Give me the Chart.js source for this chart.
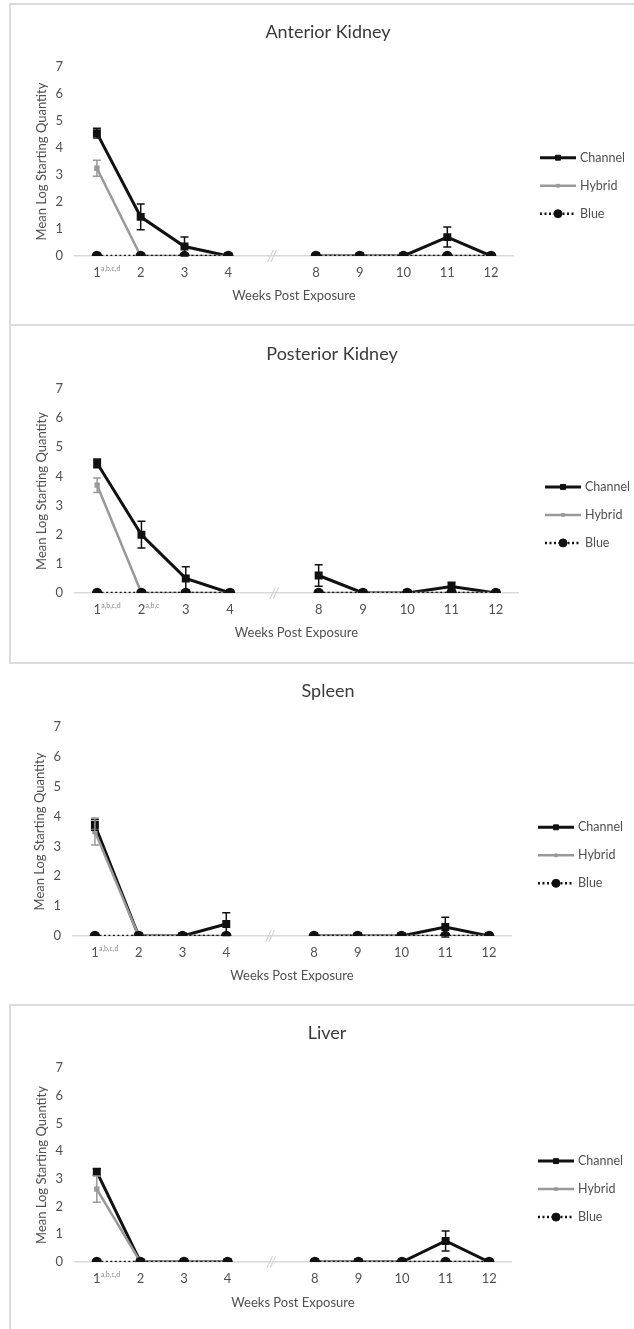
<!DOCTYPE html>
<html>
<head>
<meta charset="utf-8">
<script src="https://cdn.jsdelivr.net/npm/chart.js@4.4.1/dist/chart.umd.min.js"></script>
<style>
  body { margin: 0; background: #fff; width: 634px; height: 1329px; position: relative; overflow: hidden; font-family: Lato, sans-serif; }
  canvas { position: absolute; left: 10px; }
  .frame { position: absolute; box-sizing: border-box; border: 0 solid #dcdcdc; }
</style>
</head>
<body>
<div class="frame" style="left:9px;top:3px;width:625px;height:323px;border-top-width:2px;border-left-width:2px;border-bottom-width:2px;"></div>
<div class="frame" style="left:9px;top:326px;width:625px;height:338px;border-left-width:2px;border-bottom-width:2px;"></div>
<div class="frame" style="left:9px;top:1004px;width:625px;height:330px;border-top-width:2px;border-left-width:2px;"></div>

<canvas id="c1" width="624" height="321" style="top:4px"></canvas>
<canvas id="c2" width="624" height="335" style="top:328px"></canvas>
<canvas id="c3" width="624" height="337" style="top:663px"></canvas>
<canvas id="c4" width="624" height="324" style="top:1005px"></canvas>

<script>
// --- data ---
// week 5-7 not sampled: the empty category holds the "//" break
const weekLabels = ['1', '2', '3', '4', '', '8', '9', '10', '11', '12'];
const seriesNames = ['Channel', 'Hybrid', 'Blue'];

// Anterior Kidney
const akChannel    = [4.55, 1.45, 0.35, 0, null, 0, 0, 0, 0.70, 0];
const akChannelErr = [0.18, 0.48, 0.35, 0, null, 0, 0, 0, 0.37, 0];
const akHybrid     = [3.25, 0, 0, 0, null, 0, 0, 0, 0, 0];
const akHybridErr  = [0.30, 0, 0, 0, null, 0, 0, 0, 0, 0];
const akBlue       = [0, 0, 0, 0, null, 0, 0, 0, 0, 0];
const akSup        = ['a,b,c,d', '', '', '', '', '', '', '', '', ''];

// Posterior Kidney
const pkChannel    = [4.45, 2.00, 0.50, 0, null, 0.60, 0, 0, 0.22, 0];
const pkChannelErr = [0.15, 0.46, 0.40, 0, null, 0.37, 0, 0, 0.15, 0];
const pkHybrid     = [3.70, 0, 0, 0, null, 0, 0, 0, 0, 0];
const pkHybridErr  = [0.25, 0, 0, 0, null, 0, 0, 0, 0, 0];
const pkBlue       = [0, 0, 0, 0, null, 0, 0, 0, 0, 0];
const pkSup        = ['a,b,c,d', 'a,b,c', '', '', '', '', '', '', '', ''];

// Spleen
const spChannel    = [3.72, 0, 0, 0.40, null, 0, 0, 0, 0.30, 0];
const spChannelErr = [0.18, 0, 0, 0.38, null, 0, 0, 0, 0.33, 0];
const spHybrid     = [3.50, 0, 0, 0, null, 0, 0, 0, 0, 0];
const spHybridErr  = [0.45, 0, 0, 0, null, 0, 0, 0, 0, 0];
const spBlue       = [0, 0, 0, 0, null, 0, 0, 0, 0, 0];
const spSup        = ['a,b,c,d', '', '', '', '', '', '', '', '', ''];

// Liver
const lvChannel    = [3.25, 0, 0, 0, null, 0, 0, 0, 0.76, 0];
const lvChannelErr = [0.12, 0, 0, 0, null, 0, 0, 0, 0.36, 0];
const lvHybrid     = [2.63, 0, 0, 0, null, 0, 0, 0, 0, 0];
const lvHybridErr  = [0.47, 0, 0, 0, null, 0, 0, 0, 0, 0];
const lvBlue       = [0, 0, 0, 0, null, 0, 0, 0, 0, 0];
const lvSup        = ['a,b,c,d', '', '', '', '', '', '', '', '', ''];

const TXT = '#505050';
const FONT = 'Lato, sans-serif';

// error bars, side legend, title, "//" break and superscripts
const extras = {
  id: 'extras',
  afterDatasetsDraw(chart) {
    const ctx = chart.ctx, ys = chart.scales.y, xs = chart.scales.x;
    chart.data.datasets.forEach(ds => {
      if (!ds.errors) return;
      ctx.save();
      ctx.strokeStyle = ds.borderColor;
      ctx.lineWidth = 1.5;
      ds.errors.forEach((e, i) => {
        if (!e || ds.data[i] == null) return;
        const x = xs.getPixelForValue(i);
        const yt = ys.getPixelForValue(ds.data[i] + e);
        const yb = ys.getPixelForValue(ds.data[i] - e);
        ctx.beginPath();
        ctx.moveTo(x, yt); ctx.lineTo(x, yb);
        ctx.moveTo(x - 4, yt); ctx.lineTo(x + 4, yt);
        ctx.moveTo(x - 4, yb); ctx.lineTo(x + 4, yb);
        ctx.stroke();
      });
      ctx.restore();
    });
  },
  afterDraw(chart, args, opts) {
    const ctx = chart.ctx, area = chart.chartArea, xs = chart.scales.x, ys = chart.scales.y;
    ctx.save();
    // title
    ctx.fillStyle = '#3a3a3a';
    ctx.font = '18px ' + FONT;
    ctx.textAlign = 'center';
    ctx.textBaseline = 'middle';
    ctx.fillText(opts.title, opts.titleX, opts.titleY);

    // axis break mark
    ctx.fillStyle = '#cfcfcf';
    ctx.font = 'italic 15px ' + FONT;
    ctx.fillText('//', xs.getPixelForValue(4), ys.getPixelForValue(0));

    // superscripts next to tick labels
    ctx.fillStyle = '#8a8a8a';
    ctx.font = '7px ' + FONT;
    ctx.textAlign = 'left';
    ctx.textBaseline = 'top';
    opts.sup.forEach((s, i) => {
      if (s) ctx.fillText(s, xs.getPixelForValue(i) + 4, area.bottom + 9);
    });

    // legend on the right
    const lx = area.right + 27;
    const ly = area.top + 0.48 * (area.bottom - area.top);
    chart.data.datasets.forEach((ds, i) => {
      const y = ly + i * 28;
      ctx.strokeStyle = ds.borderColor;
      ctx.fillStyle = ds.backgroundColor;
      ctx.lineWidth = ds.borderWidth;
      ctx.setLineDash(ds.borderDash || []);
      ctx.beginPath(); ctx.moveTo(lx, y); ctx.lineTo(lx + 36, y); ctx.stroke();
      ctx.setLineDash([]);
      ctx.lineWidth = 1;
      Chart.helpers.drawPoint(ctx, { pointStyle: ds.pointStyle, radius: ds.pointRadius, rotation: 0, borderWidth: 1 }, lx + 18, y);
      ctx.fillStyle = TXT;
      ctx.font = '12.5px ' + FONT;
      ctx.textAlign = 'left';
      ctx.textBaseline = 'middle';
      ctx.fillText(ds.label, lx + 40, y);
    });
    ctx.restore();
  }
};

function buildPanel(p) {
  return new Chart(document.getElementById(p.id), {
    type: 'line',
    data: {
      labels: weekLabels,
      datasets: [
        { label: seriesNames[0], data: p.channel, errors: p.channelErr, borderColor: '#111', backgroundColor: '#111',
          borderWidth: 3, pointStyle: 'rect', pointRadius: 3.5, order: 2 },
        { label: seriesNames[1], data: p.hybrid, errors: p.hybridErr, borderColor: '#999', backgroundColor: '#999',
          borderWidth: 2.5, pointStyle: 'rect', pointRadius: 2, order: 1 },
        { label: seriesNames[2], data: p.blue, borderColor: '#111', backgroundColor: '#111',
          borderWidth: 2.5, borderDash: [2, 2.5], pointStyle: 'circle', pointRadius: 4, order: 0 }
      ]
    },
    options: {
      responsive: false,
      animation: false,
      events: [],
      spanGaps: false,
      elements: { line: { tension: 0 } },
      layout: { padding: { top: p.padTop, right: p.padRight, left: 0, bottom: 0 } },
      scales: {
        x: {
          offset: true,
          grid: { display: false, drawTicks: false },
          border: { display: true, color: '#d9d9d9', width: 1.5 },
          ticks: { color: TXT, font: { family: FONT, size: 13 }, padding: 9, maxRotation: 0, autoSkip: false },
          title: { display: true, text: 'Weeks Post Exposure', color: TXT, font: { family: FONT, size: 13 },
                   padding: { top: 0, bottom: p.xTitlePad } },
          afterFit(s) { s.height = p.xHeight; }
        },
        y: {
          min: 0, max: 7,
          grid: { display: false, drawTicks: false },
          border: { display: false },
          ticks: { stepSize: 1, color: TXT, font: { family: FONT, size: 13 }, padding: 12 },
          title: { display: true, text: 'Mean Log Starting Quantity', color: TXT, font: { family: FONT, size: 13 },
                   padding: { top: p.yTitlePad, bottom: 0 } },
          afterFit(s) { s.width = p.yWidth; }
        }
      },
      plugins: {
        legend: { display: false },
        tooltip: { enabled: false },
        extras: { title: p.title, titleX: p.titleX, titleY: p.titleY, sup: p.sup }
      }
    },
    plugins: [extras]
  });
}

buildPanel({ id: 'c1', title: 'Anterior Kidney', titleX: 318, titleY: 28,
  channel: akChannel, channelErr: akChannelErr, hybrid: akHybrid, hybridErr: akHybridErr, blue: akBlue, sup: akSup,
  padTop: 63, padRight: 121, xHeight: 69, yWidth: 65, xTitlePad: 21, yTitlePad: 24 });

buildPanel({ id: 'c2', title: 'Posterior Kidney', titleX: 322, titleY: 26,
  channel: pkChannel, channelErr: pkChannelErr, hybrid: pkHybrid, hybridErr: pkHybridErr, blue: pkBlue, sup: pkSup,
  padTop: 61, padRight: 116, xHeight: 70, yWidth: 65, xTitlePad: 22, yTitlePad: 24 });

buildPanel({ id: 'c3', title: 'Spleen', titleX: 318, titleY: 28,
  channel: spChannel, channelErr: spChannelErr, hybrid: spHybrid, hybridErr: spHybridErr, blue: spBlue, sup: spSup,
  padTop: 64, padRight: 123, xHeight: 64, yWidth: 63, xTitlePad: 16, yTitlePad: 22 });

buildPanel({ id: 'c4', title: 'Liver', titleX: 317, titleY: 28,
  channel: lvChannel, channelErr: lvChannelErr, hybrid: lvHybrid, hybridErr: lvHybridErr, blue: lvBlue, sup: lvSup,
  padTop: 63, padRight: 123, xHeight: 67, yWidth: 65, xTitlePad: 18, yTitlePad: 24 });
</script>
</body>
</html>
